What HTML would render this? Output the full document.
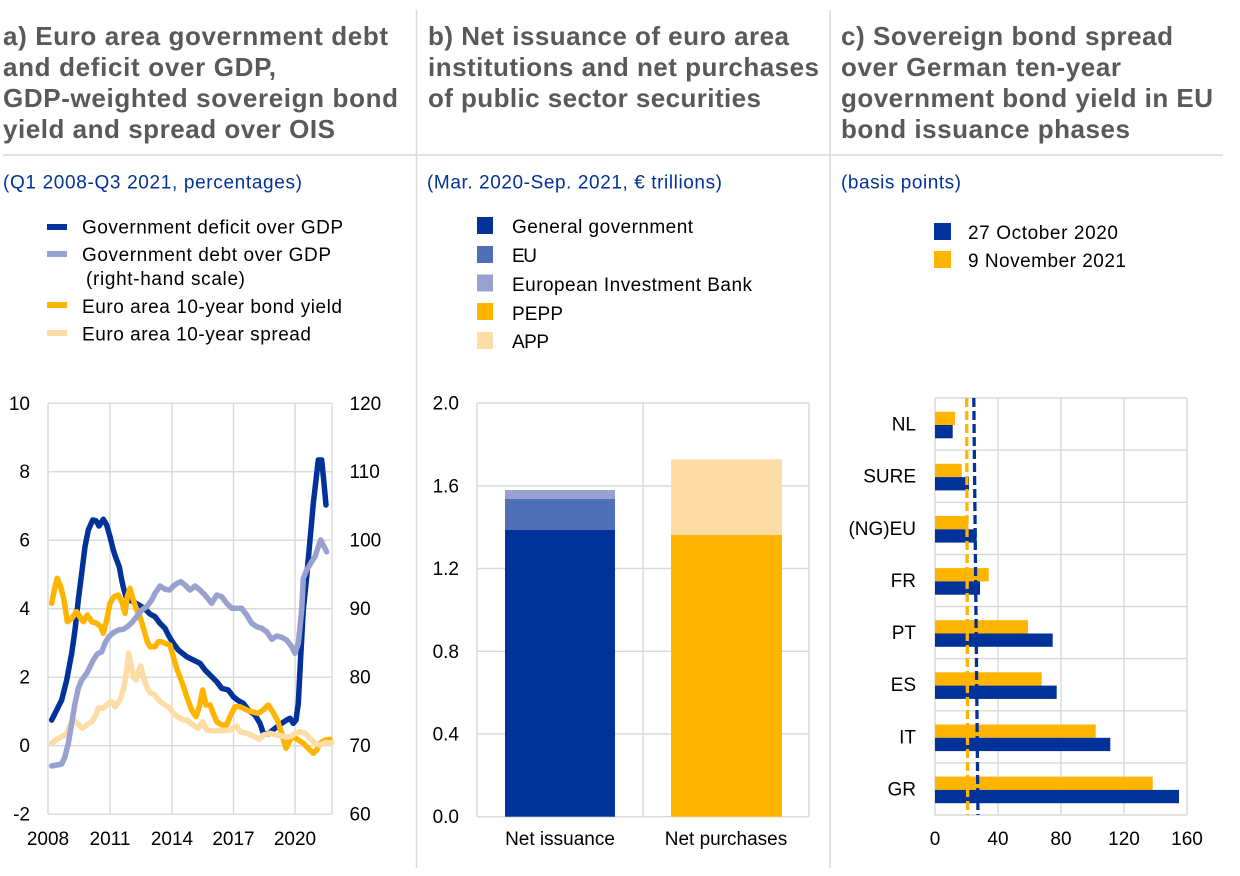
<!DOCTYPE html>
<html><head><meta charset="utf-8"><style>
html,body{margin:0;padding:0;background:#fff;}
svg{display:block;}
text{font-family:"Liberation Sans",Arial,sans-serif;}
.t{font-size:26px;font-weight:bold;fill:#595959;}
.s{font-size:19px;fill:#003299;}
.l{font-size:19px;fill:#000;}
.k{font-size:19px;fill:#000;}
.g{stroke:#d9d9d9;stroke-width:1.4;fill:none;}
.ln{fill:none;stroke-width:5.5;stroke-linejoin:round;stroke-linecap:round;}
</style></head><body>
<svg width="1240" height="876" viewBox="0 0 1240 876" xmlns="http://www.w3.org/2000/svg">
<rect width="1240" height="876" fill="#fff"/>
<!-- separators -->
<line x1="416.5" y1="10" x2="416.5" y2="868" stroke="#d9d9d9" stroke-width="1.5"/>
<line x1="830" y1="10" x2="830" y2="868" stroke="#d9d9d9" stroke-width="1.5"/>
<line x1="3" y1="155" x2="1223" y2="155" stroke="#d9d9d9" stroke-width="1.5"/>

<!-- Titles -->
<text class="t" x="3" y="45" textLength="385" lengthAdjust="spacing">a) Euro area government debt</text>
<text class="t" x="3" y="76" textLength="273" lengthAdjust="spacing">and deficit over GDP,</text>
<text class="t" x="3" y="107" textLength="395" lengthAdjust="spacing">GDP-weighted sovereign bond</text>
<text class="t" x="3" y="138" textLength="332" lengthAdjust="spacing">yield and spread over OIS</text>

<text class="t" x="428" y="45" textLength="361" lengthAdjust="spacing">b) Net issuance of euro area</text>
<text class="t" x="428" y="76" textLength="391" lengthAdjust="spacing">institutions and net purchases</text>
<text class="t" x="428" y="107" textLength="333" lengthAdjust="spacing">of public sector securities</text>

<text class="t" x="841" y="45" textLength="332" lengthAdjust="spacing">c) Sovereign bond spread</text>
<text class="t" x="841" y="76" textLength="280" lengthAdjust="spacing">over German ten-year</text>
<text class="t" x="841" y="107" textLength="372" lengthAdjust="spacing">government bond yield in EU</text>
<text class="t" x="841" y="138" textLength="289" lengthAdjust="spacing">bond issuance phases</text>

<!-- Subtitles -->
<text class="s" x="3" y="188.5" textLength="299" lengthAdjust="spacing">(Q1 2008-Q3 2021, percentages)</text>
<text class="s" x="427" y="188.5" textLength="295" lengthAdjust="spacing">(Mar. 2020-Sep. 2021, € trillions)</text>
<text class="s" x="841" y="188.5" textLength="120" lengthAdjust="spacing">(basis points)</text>

<!-- Legend a -->
<rect x="47" y="224" width="20" height="6" fill="#003299"/>
<rect x="47" y="251" width="20" height="6" fill="#98a1d0"/>
<rect x="47" y="302" width="20" height="6" fill="#ffb400"/>
<rect x="47" y="330" width="20" height="6" fill="#fddca5"/>
<text class="l" x="82" y="233.5" textLength="261" lengthAdjust="spacing">Government deficit over GDP</text>
<text class="l" x="82" y="261" textLength="249" lengthAdjust="spacing">Government debt over GDP</text>
<text class="l" x="86" y="285" textLength="159" lengthAdjust="spacing">(right-hand scale)</text>
<text class="l" x="82" y="313" textLength="260" lengthAdjust="spacing">Euro area 10-year bond yield</text>
<text class="l" x="82" y="340.5" textLength="229" lengthAdjust="spacing">Euro area 10-year spread</text>

<!-- Legend b -->
<rect x="477" y="217" width="16" height="17" fill="#003299"/>
<rect x="477" y="246" width="16" height="17" fill="#4f6fb6"/>
<rect x="477" y="274.5" width="16" height="17" fill="#98a1d0"/>
<rect x="477" y="303" width="16" height="17" fill="#ffb400"/>
<rect x="477" y="332" width="16" height="17" fill="#fddca5"/>
<text class="l" x="512" y="233" textLength="181" lengthAdjust="spacing">General government</text>
<text class="l" x="512" y="262" textLength="25" lengthAdjust="spacing">EU</text>
<text class="l" x="512" y="291" textLength="240" lengthAdjust="spacing">European Investment Bank</text>
<text class="l" x="512" y="320" textLength="51" lengthAdjust="spacing">PEPP</text>
<text class="l" x="512" y="348" textLength="37" lengthAdjust="spacing">APP</text>

<!-- Legend c -->
<rect x="934" y="223" width="17" height="17" fill="#003299"/>
<rect x="934" y="251" width="17" height="17" fill="#ffb400"/>
<text class="l" x="968" y="239" textLength="150" lengthAdjust="spacing">27 October 2020</text>
<text class="l" x="968" y="267" textLength="158" lengthAdjust="spacing">9 November 2021</text>

<!-- ===== Panel a ===== -->
<g class="g">
<line x1="48" y1="403.2" x2="332" y2="403.2"/>
<line x1="48" y1="471.7" x2="332" y2="471.7"/>
<line x1="48" y1="540.2" x2="332" y2="540.2"/>
<line x1="48" y1="608.7" x2="332" y2="608.7"/>
<line x1="48" y1="677.2" x2="332" y2="677.2"/>
<line x1="48" y1="745.7" x2="332" y2="745.7"/>
<line x1="48" y1="814.2" x2="332" y2="814.2"/>
<line x1="48" y1="403.2" x2="48" y2="814.2"/>
<line x1="110" y1="403.2" x2="110" y2="814.2"/>
<line x1="172" y1="403.2" x2="172" y2="814.2"/>
<line x1="233.5" y1="403.2" x2="233.5" y2="814.2"/>
<line x1="295" y1="403.2" x2="295" y2="814.2"/>
<line x1="332" y1="403.2" x2="332" y2="814.2"/>
</g>
<g class="k" text-anchor="end">
<text x="30" y="410">10</text>
<text x="30" y="478.2">8</text>
<text x="30" y="546.7">6</text>
<text x="30" y="615.2">4</text>
<text x="30" y="683.7">2</text>
<text x="30" y="752.2">0</text>
<text x="30" y="820.7">-2</text>
</g>
<g class="k" text-anchor="start">
<text x="349.5" y="410">120</text>
<text x="349.5" y="478.2">110</text>
<text x="349.5" y="546.7">100</text>
<text x="349.5" y="615.2">90</text>
<text x="349.5" y="683.7">80</text>
<text x="349.5" y="752.2">70</text>
<text x="349.5" y="820.7">60</text>
</g>
<g class="k" text-anchor="middle">
<text x="48" y="845">2008</text>
<text x="110" y="845">2011</text>
<text x="172" y="845">2014</text>
<text x="233.5" y="845">2017</text>
<text x="295" y="845">2020</text>
</g>
<polyline class="ln" stroke="#003299" points="51.7,720 56.7,710 61.7,700 66.7,680 71.7,653.3 75,630 78.3,600 81.7,573.3 85,546.7 88.3,530 92.7,520 96,520.7 99,526 103.3,519.3 106.7,525 110,536.7 113.3,550 116,558.3 119.3,566.7 121.7,580 124,590 126,596.7 129.3,600 133.3,601.7 137.3,604 141.7,606.7 146,610 150,614 155,616.7 160,623.3 165,628.3 168.3,635 173.3,643.3 178.3,650 186.7,656.7 193.3,660 200,663.3 205,670 211.7,676.7 216.7,681.7 221.7,688.3 228.3,690 233.3,696.7 238.3,700.7 243.3,703.3 248.3,710 255,715 260,723.3 263.3,733.3 268.3,734 275,728.3 281.7,723.3 286.7,720 290,718.3 293.3,723.3 296,720 298.3,703.3 300.7,656.7 303.3,610 306.7,576.7 310,540 313.3,503.3 316,480 318.3,460 321.7,460 324,483.3 326,505"/>
<polyline class="ln" stroke="#ffb400" points="51.7,603.3 55,586.7 57.3,578.3 60.7,586.7 64,600 67.3,621.7 71.7,618.3 76.7,611.7 80.7,618.3 83.3,621.7 87.3,615 91.7,621.7 96.7,623.3 100.7,626.7 103.3,633.3 106.7,620 110,603.3 114,596.7 118.3,595 121.7,601.7 125,613.3 127.3,596.7 130,588.3 132.7,598.3 136.7,610 140,616.7 144,630 147.3,641.7 150,646.7 155,646.7 158.3,641.7 161.7,641.7 165,643.3 170,645 173.3,656.7 176.7,668.3 180,677 183.3,686 186.7,696.7 191.7,710 196,716.7 199.3,706.7 202.7,690 206,705 210,705 213.3,713.3 216.7,721.7 221.7,725 226.7,725 230,716.7 235,706.7 240,706.7 246.7,710 251.7,711.7 258.3,713.3 263.3,710 268.3,705 272.7,711.7 277.3,720 281.7,733.3 286,748.3 290,740 293.3,736.7 298.3,740 303.3,743.3 308.3,748.3 313.3,753.3 316.7,750 320,743.3 325,740 330,739.3"/>
<polyline class="ln" stroke="#fddca5" points="51.7,743.3 56.7,739.3 61.7,736.7 66.7,734 70,725 73.3,720 77.3,723.3 82.7,728.3 86.7,725 91.7,721.7 95,716.7 98.3,708.3 103.3,708.3 108.3,703.3 111.7,701.7 115,706.7 120,700 124,686.7 126.7,670 128.7,653.3 130.7,663.3 133.3,676.7 136,680 138.3,671.7 140.7,666 143.3,676.7 146.7,686.7 150,692.7 155,695 160,701.7 165,705 170,708.3 173.3,713.3 177.3,716.7 183.3,720 186.7,720 193.3,725 198.3,728.3 202.7,721.7 206.7,730 213.3,731 221.7,730.7 230,730 236.7,726 240,731.7 246.7,733.3 253.3,736 259.3,739.3 263.3,735 270,733.3 276.7,735 281.7,736 286.7,737.3 291.7,736 295,733.3 300,731.7 305,733.3 310,738.3 315,743.3 320,745 325,742.7 331.7,742.7"/>
<polyline class="ln" stroke="#98a1d0" points="51.7,766 56.7,765 61.7,764 65,756.7 68.3,743.3 71.7,723.3 75,703.3 78.3,688.3 81.7,680 86.7,673.3 90,666.7 93.3,660 97.3,654 101.7,651.7 105,643.3 108.3,637.3 113.3,632.7 118.3,630 123.3,629.3 127.3,626.7 131.7,622.7 136.7,616.7 141.7,610 146.7,606.7 151.7,600 155,593.3 160,586 165,589.3 170,590 173.3,586 177.3,583.3 180.7,581.7 185,585 190,590 195,586 200,590 205,595 211.7,603.3 216.7,595 221.7,596.7 226.7,603.3 231.7,608.3 236.7,608.3 241.7,608.3 246.7,615 251.7,623.3 256.7,626.7 261.7,628.3 266.7,631.7 271.7,639.3 276.7,636 281.7,637.3 286.7,640 291.7,646.7 295,653.3 298.3,643.3 301.7,610 303.3,578.3 306.7,570 311.7,561.7 315,556.7 318.3,546.7 320.7,540 324,546.7 326.7,551.7"/>

<!-- ===== Panel b ===== -->
<g class="g">
<line x1="477" y1="403" x2="809" y2="403"/>
<line x1="477" y1="486" x2="809" y2="486"/>
<line x1="477" y1="568.5" x2="809" y2="568.5"/>
<line x1="477" y1="651.3" x2="809" y2="651.3"/>
<line x1="477" y1="734" x2="809" y2="734"/>
<line x1="477" y1="816.7" x2="809" y2="816.7"/>
<line x1="477" y1="403" x2="477" y2="816.7"/>
<line x1="643" y1="403" x2="643" y2="816.7"/>
<line x1="809" y1="403" x2="809" y2="816.7"/>
</g>
<rect x="505" y="530" width="110" height="286.7" fill="#003299"/>
<rect x="505" y="498.7" width="110" height="31.3" fill="#4f6fb6"/>
<rect x="505" y="490" width="110" height="8.7" fill="#98a1d0"/>
<rect x="671" y="535" width="111" height="281.7" fill="#ffb400"/>
<rect x="671" y="459.3" width="111" height="75.7" fill="#fddca5"/>
<g class="k" text-anchor="end">
<text x="459" y="409.5">2.0</text>
<text x="459" y="492.5">1.6</text>
<text x="459" y="575">1.2</text>
<text x="459" y="657.8">0.8</text>
<text x="459" y="740.5">0.4</text>
<text x="459" y="823.2">0.0</text>
</g>
<g class="k" text-anchor="middle">
<text x="560" y="845">Net issuance</text>
<text x="726" y="845">Net purchases</text>
</g>

<!-- ===== Panel c ===== -->
<g class="g">
<line x1="935" y1="398" x2="1187" y2="398"/>
<line x1="935" y1="450.1" x2="1187" y2="450.1"/>
<line x1="935" y1="502.3" x2="1187" y2="502.3"/>
<line x1="935" y1="554.4" x2="1187" y2="554.4"/>
<line x1="935" y1="606.5" x2="1187" y2="606.5"/>
<line x1="935" y1="658.6" x2="1187" y2="658.6"/>
<line x1="935" y1="710.8" x2="1187" y2="710.8"/>
<line x1="935" y1="762.9" x2="1187" y2="762.9"/>
<line x1="935" y1="815" x2="1187" y2="815"/>
<line x1="935" y1="398" x2="935" y2="815"/>
<line x1="998" y1="398" x2="998" y2="815"/>
<line x1="1061" y1="398" x2="1061" y2="815"/>
<line x1="1124" y1="398" x2="1124" y2="815"/>
<line x1="1187" y1="398" x2="1187" y2="815"/>
</g>
<g>
<rect x="935" y="411.7" width="20" height="13.3" fill="#ffb400"/>
<rect x="935" y="425" width="17.7" height="13.3" fill="#003299"/>
<rect x="935" y="463.8" width="26.7" height="13.3" fill="#ffb400"/>
<rect x="935" y="477.1" width="34" height="13.3" fill="#003299"/>
<rect x="935" y="516" width="33.3" height="13.3" fill="#ffb400"/>
<rect x="935" y="529.3" width="41.7" height="13.3" fill="#003299"/>
<rect x="935" y="568.1" width="53.7" height="13.3" fill="#ffb400"/>
<rect x="935" y="581.4" width="45" height="13.3" fill="#003299"/>
<rect x="935" y="620.2" width="93" height="13.3" fill="#ffb400"/>
<rect x="935" y="633.5" width="117.7" height="13.3" fill="#003299"/>
<rect x="935" y="672.3" width="106.7" height="13.3" fill="#ffb400"/>
<rect x="935" y="685.6" width="121.7" height="13.3" fill="#003299"/>
<rect x="935" y="724.5" width="160.7" height="13.3" fill="#ffb400"/>
<rect x="935" y="737.8" width="175.3" height="13.3" fill="#003299"/>
<rect x="935" y="776.6" width="217.7" height="13.3" fill="#ffb400"/>
<rect x="935" y="789.9" width="244" height="13.3" fill="#003299"/>
</g>
<line x1="966.7" y1="398" x2="967.7" y2="815" stroke="#ffb400" stroke-width="3.3" stroke-dasharray="9,4"/>
<line x1="973.8" y1="398" x2="978" y2="815" stroke="#003299" stroke-width="3.3" stroke-dasharray="9,4"/>
<g class="k" text-anchor="end">
<text x="916" y="430.5">NL</text>
<text x="916" y="482.7">SURE</text>
<text x="916" y="534.8">(NG)EU</text>
<text x="916" y="586.9">FR</text>
<text x="916" y="639">PT</text>
<text x="916" y="691.2">ES</text>
<text x="916" y="743.3">IT</text>
<text x="916" y="795.4">GR</text>
</g>
<g class="k" text-anchor="middle">
<text x="935" y="845">0</text>
<text x="998" y="845">40</text>
<text x="1061" y="845">80</text>
<text x="1124" y="845">120</text>
<text x="1187" y="845">160</text>
</g>
</svg>
</body></html>
